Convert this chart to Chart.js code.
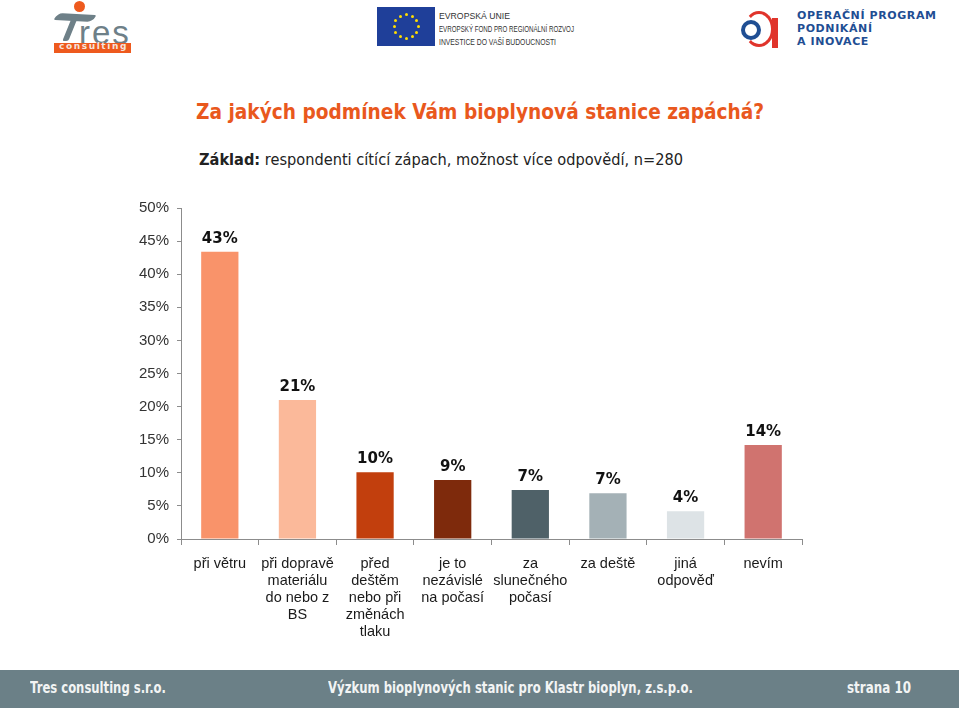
<!DOCTYPE html>
<html><head><meta charset="utf-8">
<script src="https://cdn.jsdelivr.net/npm/chart.js@4/dist/chart.umd.min.js"></script>
<style>
html,body{margin:0;padding:0;background:#fff;}
#page{position:relative;width:959px;height:708px;overflow:hidden;background:#fff;font-family:"DejaVu Sans",sans-serif;}
.abs{position:absolute;white-space:nowrap;}
#title{left:196px;top:99px;font:bold 22px "DejaVu Sans";color:#E9581D;transform-origin:left center;}
#sub{left:199px;top:150px;font:16px "DejaVu Sans";color:#222;transform-origin:left center;}
#footer{left:0;top:670px;width:959px;height:38px;background:#6B8087;}
.ft{top:679px;font:bold 15px "DejaVu Sans";color:#F2F4F4;transform-origin:left center;}
#chartwrap{left:100px;top:190px;width:720px;height:470px;}
.eu{left:439px;font:9px "Liberation Sans";color:#333;transform-origin:left center;}
.op{left:797px;font:bold 11px "DejaVu Sans";color:#1F4E93;letter-spacing:0.6px;}
</style></head>
<body><div id="page">
<!-- Tres logo -->
<div class="abs" style="left:74px;top:1px;width:11px;height:11px;border-radius:50%;background:#EE5A1E;"></div>
<div class="abs" style="left:55px;top:14px;width:40px;height:7px;background:#6E8088;border-radius:8px 2px 8px 2px;transform:skewX(-25deg) rotate(3deg);"></div>
<div class="abs" style="left:67px;top:18px;width:6px;height:23px;background:#6E8088;transform:skewX(-22deg);border-radius:2px;"></div>
<div class="abs" style="left:79px;top:6px;height:36px;width:56px;font:33px/36px 'Liberation Sans';color:#6E8088;letter-spacing:2px;display:flex;align-items:flex-end;"><span style="line-height:1;display:block;transform:translateY(7px);">res</span></div>
<div class="abs" style="left:54px;top:43px;width:77px;height:10px;background:#EE5A1E;"></div>
<div class="abs" style="left:59px;top:41px;font:bold 9px 'DejaVu Sans';color:#F6E4DC;letter-spacing:1.6px;">consulting</div>
<!-- EU -->
<div class="abs" id="flag" style="left:377px;top:7px;width:58px;height:39px;background:#1F3F99;"></div>
<div class="abs eu" id="eu1" style="top:11px;">EVROPSKÁ UNIE</div>
<div class="abs eu" id="eu2" style="top:24px;">EVROPSKÝ FOND PRO REGIONÁLNÍ ROZVOJ</div>
<div class="abs eu" id="eu3" style="top:37px;">INVESTICE DO VAŠÍ BUDOUCNOSTI</div>
<!-- OPPI -->
<div class="abs" style="left:741px;top:20px;width:12px;height:12px;border:4px solid #1F4E93;border-radius:50%;"></div>
<div class="abs" style="left:744px;top:11px;width:24px;height:30px;border:3px solid #E0342B;border-left-color:transparent;border-bottom-color:#E0342B;border-radius:50%;"></div>
<div class="abs" style="left:772px;top:18px;width:6px;height:30px;background:#E0342B;"></div>
<div class="abs op" style="top:9px;">OPERAČNÍ PROGRAM</div>
<div class="abs op" style="top:22px;">PODNIKÁNÍ</div>
<div class="abs op" style="top:35px;">A INOVACE</div>

<div class="abs" id="title">Za jakých podmínek Vám bioplynová stanice zapáchá?</div>
<div class="abs" id="sub"><b>Základ:</b> respondenti cítící zápach, možnost více odpovědí, n=280</div>

<div class="abs" id="chartwrap"><canvas id="c" width="720" height="470"></canvas></div>

<div class="abs" id="footer"></div>
<div class="abs ft" id="f1" style="left:30px;">Tres consulting s.r.o.</div>
<div class="abs ft" id="f2" style="left:328px;">Výzkum bioplynových stanic pro Klastr bioplyn, z.s.p.o.</div>
<div class="abs ft" id="f3" style="left:847px;">strana 10</div>
</div>
<script>
const categories = [
  ['při větru'],
  ['při dopravě','materiálu','do nebo z','BS'],
  ['před','deštěm','nebo při','změnách','tlaku'],
  ['je to','nezávislé','na počasí'],
  ['za','slunečného','počasí'],
  ['za deště'],
  ['jiná','odpověď'],
  ['nevím']
];
const values = [43.4, 21.0, 10.1, 8.9, 7.4, 6.9, 4.2, 14.2];
const valueLabels = ['43%','21%','10%','9%','7%','7%','4%','14%'];
const barColors = ['#F9936A','#FBB99A','#C23F0D','#7E2A0C','#4F6168','#A4B1B6','#DDE3E6','#D0736F'];
const yMin = 0, yMax = 50, yStep = 5;

// fit decorative text widths
function fitW(id, w){const el=document.getElementById(id);const cw=el.getBoundingClientRect().width;el.style.transform='scaleX('+(w/cw)+')';}
fitW('eu1', 71); fitW('eu2', 135); fitW('eu3', 117);
fitW('f1', 136); fitW('f2', 365); fitW('f3', 64);
fitW('title', 568); fitW('sub', 484);
(function(){
  const f=document.getElementById('flag');
  for(let i=0;i<12;i++){const a=i*Math.PI/6;const s=document.createElement('div');
    s.style.cssText='position:absolute;width:3px;height:3px;background:#FFDD00;border-radius:50%;left:'+(29+12*Math.cos(a)-1.5)+'px;top:'+(19.5+12*Math.sin(a)-1.5)+'px;';
    f.appendChild(s);}
})();

const labelPlugin = {
  id:'valLabels',
  afterDatasetsDraw(chart){
    const ctx=chart.ctx; const meta=chart.getDatasetMeta(0);
    ctx.save(); ctx.font='bold 15px "DejaVu Sans"'; ctx.fillStyle='#111';
    ctx.textAlign='center'; ctx.textBaseline='middle';
    meta.data.forEach((bar,i)=>{ ctx.fillText(valueLabels[i], bar.x, bar.y-13); });
    ctx.restore();
  }
};

new Chart(document.getElementById('c'), {
  type:'bar',
  data:{ labels:categories, datasets:[{ data:values, backgroundColor:barColors, borderWidth:0, barPercentage:0.48, categoryPercentage:1 }] },
  options:{
    responsive:false, animation:false, devicePixelRatio:1,
    layout:{ padding:{ top:18, right:18, left:0, bottom:0 } },
    plugins:{ legend:{display:false}, tooltip:{enabled:false}, title:{display:false} },
    scales:{
      x:{
        grid:{ drawOnChartArea:false, tickLength:6, color:'#8C8C8C', offset:true },
        border:{ color:'#8C8C8C' },
        ticks:{ font:{ family:'Liberation Sans', size:14.5, lineHeight:1.18 }, color:'#1A1A1A', maxRotation:0, autoSkip:false, padding:10 },
        afterFit(s){ s.height = 121; }
      },
      y:{
        min:yMin, max:yMax,
        grid:{ drawOnChartArea:false, tickLength:4, color:'#8C8C8C' },
        border:{ color:'#8C8C8C' },
        ticks:{ stepSize:yStep, callback:v=>v+'%', font:{ family:'Liberation Sans', size:15 }, color:'#333', padding:8 },
        afterFit(s){ s.width = 81; }
      }
    }
  },
  plugins:[labelPlugin]
});
</script>
</body></html>
